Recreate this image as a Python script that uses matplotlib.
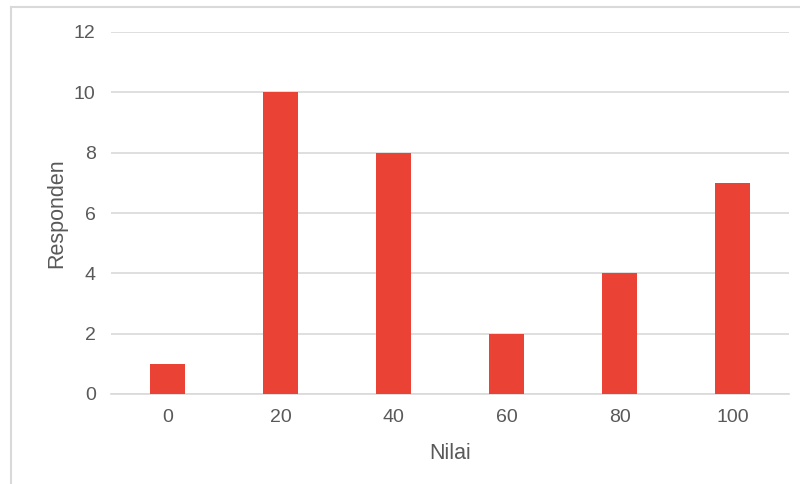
import matplotlib
matplotlib.use('Agg')
import matplotlib.pyplot as plt
from matplotlib.lines import Line2D

# responden per nilai
nilai = ['0', '20', '40', '60', '80', '100']
responden = [1, 10, 8, 2, 4, 7]

plt.rcParams['font.family'] = ['Liberation Sans', 'DejaVu Sans']
txt = '#595959'
grid = '#d9d9d9'

fig = plt.figure(figsize=(8, 4.84), dpi=100)
ax = fig.add_axes([111/800, 1 - 394/484, 678/800, 362/484])

ax.bar(range(len(nilai)), responden, width=0.31, color='#ea4335', zorder=3)
ax.set_xlim(-0.5, len(nilai) - 0.5)
ax.set_ylim(0, 12)
ax.set_yticks(range(0, 13, 2))
ax.set_xticks(range(len(nilai)))
ax.set_xticklabels(nilai)

ax.yaxis.grid(True, color=grid, lw=1.2, zorder=0)
for s in ['top', 'right', 'left']:
    ax.spines[s].set_visible(False)
ax.spines['bottom'].set_color(grid)
ax.spines['bottom'].set_linewidth(1.2)
ax.tick_params(length=0, labelsize=14, colors=txt)
ax.tick_params(axis='y', pad=11)
ax.tick_params(axis='x', pad=11)

ax.set_xlabel('Nilai', fontsize=15.5, color=txt, labelpad=12)
ax.set_ylabel('Responden', fontsize=15.5, color=txt, labelpad=5)

# outer chart border (top and left edges visible)
fig.add_artist(Line2D([11/800, 1], [1 - 7/484, 1 - 7/484], color='#d9d9d9', lw=1.5))
fig.add_artist(Line2D([11/800, 11/800], [0, 1 - 7/484], color='#d9d9d9', lw=1.5))

fig.savefig('out.png', dpi=100)
